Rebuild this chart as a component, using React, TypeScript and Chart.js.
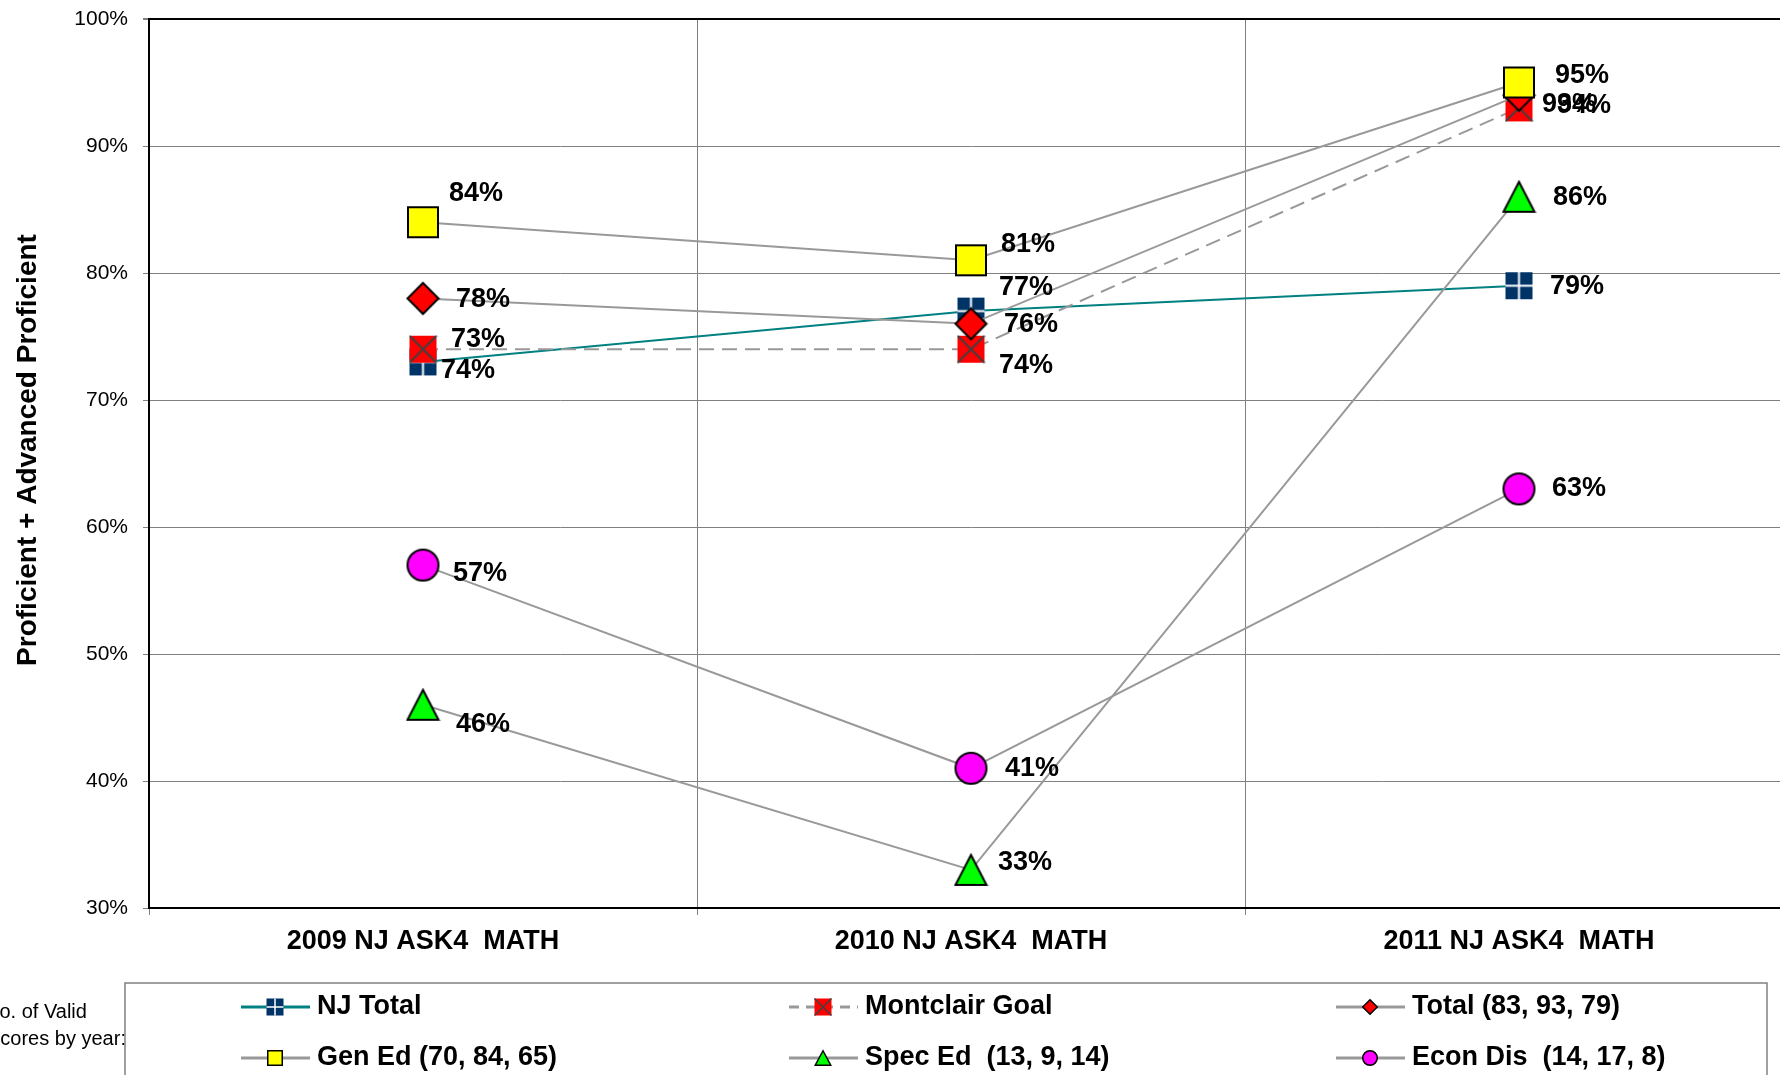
import React, { useEffect, useRef } from 'react';
import { Chart, registerables } from 'chart.js';

Chart.register(...registerables);

// ---------- data ----------
const CATEGORIES = ['2009 NJ ASK4  MATH', '2010 NJ ASK4  MATH', '2011 NJ ASK4  MATH'];
const Y_MIN = 30;
const Y_MAX = 100;
const Y_STEP = 10;

const NJ_TOTAL = [73, 77, 79];
const MONTCLAIR_GOAL = [74, 74, 93];
const TOTAL = [78, 76, 94];
const GEN_ED = [84, 81, 95];
const SPEC_ED = [46, 33, 86];
const ECON_DIS = [57, 41, 63];

const SERIES_NAMES = [
  'NJ Total',
  'Montclair Goal',
  'Total (83, 93, 79)',
  'Gen Ed (70, 84, 65)',
  'Spec Ed  (13, 9, 14)',
  'Econ Dis  (14, 17, 8)',
];
const Y_TITLE = 'Proficient + Advanced Proficient';
const SIDE_NOTE = ['No. of Valid', 'Scores by year:'];

// ---------- styles / positions ----------
const FONT = '"Liberation Sans", Arial, Helvetica, sans-serif';
const GRAY_LINE = '#999999';
const GRID = '#808080';

type Kind = 'nj' | 'goal' | 'diamond' | 'square' | 'triangle' | 'circle';

const SERIES_STYLE: { kind: Kind; color: string; dash: number[]; w: number; h: number; lw: number; lh: number }[] = [
  { kind: 'nj', color: '#008080', dash: [], w: 27, h: 27, lw: 17, lh: 17 },
  { kind: 'goal', color: GRAY_LINE, dash: [15, 8], w: 27, h: 27, lw: 17, lh: 17 },
  { kind: 'diamond', color: GRAY_LINE, dash: [], w: 33, h: 33, lw: 16, lh: 16 },
  { kind: 'square', color: GRAY_LINE, dash: [], w: 32, h: 32, lw: 16, lh: 16 },
  { kind: 'triangle', color: GRAY_LINE, dash: [], w: 33, h: 32, lw: 17, lh: 16 },
  { kind: 'circle', color: GRAY_LINE, dash: [], w: 33, h: 33, lw: 16, lh: 16 },
];

// label offsets (px) relative to each point, per series per category
const LABEL_OFFSETS = [
  [[55, -22], [55, -24], [58, 1]],
  [[45, 21], [55, 16], [50, -3]],
  [[60, 1], [60, 1], [65, 10]],
  [[53, -29], [57, -16], [63, -7]],
  [[60, 20], [54, -7], [61, 1]],
  [[57, 8], [61, 0], [60, 0]],
];

const LEGEND_COLS = [241, 789, 1336];
const LEGEND_ROWS = [1007, 1058];

function drawMarker(ctx: CanvasRenderingContext2D, kind: Kind, cx: number, cy: number, w: number, h: number, small: boolean) {
  const x = cx - w / 2;
  const y = cy - h / 2;
  const sw = small ? 1.5 : 2;
  ctx.save();
  ctx.lineJoin = 'miter';
  switch (kind) {
    case 'nj': {
      ctx.fillStyle = '#003366';
      ctx.fillRect(x, y, w, h);
      ctx.strokeStyle = '#ffffff';
      ctx.lineWidth = small ? 1.5 : 2;
      ctx.beginPath();
      ctx.moveTo(cx, y);
      ctx.lineTo(cx, y + h);
      ctx.moveTo(x, cy);
      ctx.lineTo(x + w, cy);
      ctx.stroke();
      break;
    }
    case 'goal': {
      ctx.fillStyle = '#ff0000';
      ctx.fillRect(x, y, w, h);
      ctx.strokeStyle = '#404040';
      ctx.lineWidth = small ? 1.5 : 2;
      ctx.beginPath();
      ctx.moveTo(x, y);
      ctx.lineTo(x + w, y + h);
      ctx.moveTo(x + w, y);
      ctx.lineTo(x, y + h);
      ctx.stroke();
      break;
    }
    case 'square': {
      ctx.fillStyle = '#ffff00';
      ctx.strokeStyle = '#000';
      ctx.lineWidth = sw;
      ctx.fillRect(x + sw / 2, y + sw / 2, w - sw, h - sw);
      ctx.strokeRect(x + sw / 2, y + sw / 2, w - sw, h - sw);
      break;
    }
    case 'diamond': {
      ctx.fillStyle = '#ff0000';
      ctx.strokeStyle = '#000';
      ctx.lineWidth = sw;
      ctx.beginPath();
      ctx.moveTo(cx, y + sw / 2);
      ctx.lineTo(x + w - sw / 2, cy);
      ctx.lineTo(cx, y + h - sw / 2);
      ctx.lineTo(x + sw / 2, cy);
      ctx.closePath();
      ctx.fill();
      ctx.stroke();
      break;
    }
    case 'triangle': {
      ctx.fillStyle = '#00ff00';
      ctx.strokeStyle = '#000';
      ctx.lineWidth = sw;
      ctx.beginPath();
      ctx.moveTo(cx, y + sw / 2);
      ctx.lineTo(x + w - sw / 2, y + h - sw / 2);
      ctx.lineTo(x + sw / 2, y + h - sw / 2);
      ctx.closePath();
      ctx.fill();
      ctx.stroke();
      break;
    }
    case 'circle': {
      ctx.fillStyle = '#ff00ff';
      ctx.strokeStyle = '#000';
      ctx.lineWidth = sw;
      ctx.beginPath();
      ctx.ellipse(cx, cy, w / 2 - sw / 2, h / 2 - sw / 2, 0, 0, Math.PI * 2);
      ctx.fill();
      ctx.stroke();
      break;
    }
  }
  ctx.restore();
}

function makeMarker(kind: Kind, w: number, h: number): HTMLCanvasElement {
  const c = document.createElement('canvas');
  c.width = w + 2;
  c.height = h + 2;
  const ctx = c.getContext('2d')!;
  drawMarker(ctx, kind, c.width / 2, c.height / 2, w, h, false);
  return c;
}

const overlayPlugin = {
  id: 'overlay',
  afterDatasetsDraw(chart: any) {
    const ctx: CanvasRenderingContext2D = chart.ctx;
    ctx.save();
    ctx.font = `bold 27px ${FONT}`;
    ctx.fillStyle = '#000';
    ctx.textAlign = 'center';
    ctx.textBaseline = 'middle';
    chart.data.datasets.forEach((ds: any, i: number) => {
      const meta = chart.getDatasetMeta(i);
      meta.data.forEach((pt: any, j: number) => {
        const off = LABEL_OFFSETS[i][j];
        ctx.fillText(`${ds.data[j]}%`, pt.x + off[0], pt.y + off[1]);
      });
    });
    ctx.restore();
  },
  afterDraw(chart: any) {
    const ctx: CanvasRenderingContext2D = chart.ctx;
    ctx.save();
    // y-axis title
    ctx.translate(28, 450);
    ctx.rotate(-Math.PI / 2);
    ctx.font = `bold 28px ${FONT}`;
    ctx.fillStyle = '#000';
    ctx.textAlign = 'center';
    ctx.textBaseline = 'middle';
    ctx.fillText(Y_TITLE, 0, 0);
    ctx.restore();

    // side note
    ctx.save();
    ctx.font = `20px ${FONT}`;
    ctx.fillStyle = '#000';
    ctx.textAlign = 'left';
    ctx.textBaseline = 'middle';
    ctx.fillText(SIDE_NOTE[0], -15, 1012);
    ctx.fillText(SIDE_NOTE[1], -13, 1039);
    ctx.restore();

    // legend box
    ctx.save();
    ctx.strokeStyle = GRID;
    ctx.lineWidth = 1.5;
    ctx.strokeRect(125, 983, 1642, 200);
    chart.data.datasets.forEach((ds: any, i: number) => {
      const st = SERIES_STYLE[i];
      const x0 = LEGEND_COLS[i % 3];
      const y0 = LEGEND_ROWS[Math.floor(i / 3)];
      ctx.save();
      ctx.strokeStyle = st.color;
      ctx.lineWidth = 3;
      ctx.setLineDash(st.dash.length ? [10, 7] : []);
      ctx.beginPath();
      ctx.moveTo(x0, y0);
      ctx.lineTo(x0 + 69, y0);
      ctx.stroke();
      ctx.restore();
      drawMarker(ctx, st.kind, x0 + 34, y0, st.lw, st.lh, true);
      ctx.font = `bold 27px ${FONT}`;
      ctx.fillStyle = '#000';
      ctx.textAlign = 'left';
      ctx.textBaseline = 'middle';
      ctx.fillText(ds.label, x0 + 76, y0);
    });
    ctx.restore();
  },
};

export default function App() {
  const ref = useRef<HTMLCanvasElement>(null);

  useEffect(() => {
    const seriesData = [NJ_TOTAL, MONTCLAIR_GOAL, TOTAL, GEN_ED, SPEC_ED, ECON_DIS];
    const datasets = seriesData.map((d, i) => {
      const st = SERIES_STYLE[i];
      return {
        label: SERIES_NAMES[i],
        data: d,
        borderColor: st.color,
        backgroundColor: st.color,
        borderWidth: 2,
        borderDash: st.dash,
        pointStyle: makeMarker(st.kind, st.w, st.h),
        pointRadius: 1,
        pointHoverRadius: 1,
        pointBorderWidth: 0,
        fill: false,
        tension: 0,
        clip: false,
        order: seriesData.length - i,
      };
    });

    const chart = new Chart(ref.current!, {
      type: 'line',
      data: { labels: CATEGORIES, datasets },
      options: {
        responsive: false,
        animation: false,
        events: [],
        layout: { padding: { top: 19, left: 0, right: 7, bottom: 0 } },
        plugins: {
          legend: { display: false },
          tooltip: { enabled: false },
        },
        scales: {
          x: {
            type: 'category',
            offset: true,
            grid: {
              offset: true,
              color: GRID,
              lineWidth: 1,
              tickLength: 7,
              tickColor: GRID,
            },
            border: { color: '#000', width: 2 },
            ticks: {
              color: '#000',
              font: { family: FONT, size: 27, weight: 'bold' },
              padding: 10,
              maxRotation: 0,
              autoSkip: false,
            },
            afterFit(scale: any) {
              scale.height = 167;
              scale.paddingLeft = 0;
              scale.paddingRight = 0;
              scale.paddingTop = 0;
              scale.paddingBottom = 0;
            },
          },
          y: {
            min: Y_MIN,
            max: Y_MAX,
            grid: {
              color: (c: any) => (c.tick && c.tick.value === Y_MAX ? '#000' : GRID),
              lineWidth: (c: any) => (c.tick && c.tick.value === Y_MAX ? 2 : 1),
              tickLength: 6,
              tickColor: GRID,
            },
            border: { color: '#000', width: 2 },
            ticks: {
              stepSize: Y_STEP,
              color: '#000',
              font: { family: FONT, size: 21 },
              padding: 15,
              callback: (v: any) => `${v}%`,
            },
            afterFit(scale: any) {
              scale.width = 149;
              scale.paddingTop = 0;
              scale.paddingBottom = 0;
              scale.paddingLeft = 0;
              scale.paddingRight = 0;
            },
          },
        },
      } as any,
      plugins: [overlayPlugin],
    });
    return () => chart.destroy();
  }, []);

  return (
    <div
      style={{
        position: 'fixed',
        left: 0,
        top: 0,
        width: '100vw',
        height: '100vh',
        overflow: 'hidden',
        background: '#fff',
      }}
    >
      <canvas ref={ref} width={1800} height={1075} style={{ display: 'block' }} />
    </div>
  );
}
